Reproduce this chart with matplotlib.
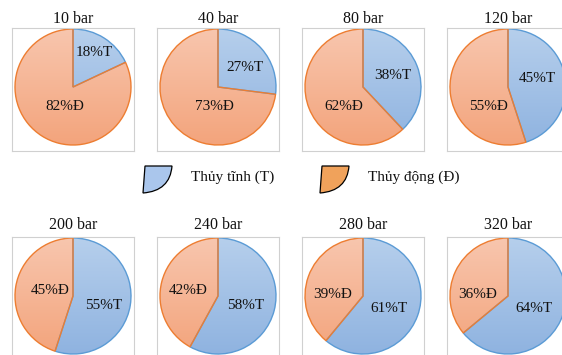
import numpy as np
import matplotlib.pyplot as plt
from matplotlib.path import Path
from matplotlib.patches import PathPatch
from matplotlib.colors import to_rgb

# share of hydrostatic (T) and hydrodynamic (Đ) load at each pressure
pressures = ["10 bar", "40 bar", "80 bar", "120 bar",
             "200 bar", "240 bar", "280 bar", "320 bar"]
tinh = [18, 27, 38, 45, 55, 58, 61, 64]
dong = [82, 73, 62, 55, 45, 42, 39, 36]
legend_names = ["Thủy tĩnh (T)", "Thủy động (Đ)"]
tags = ["T", "Đ"]

# where the two percentage labels sit, as fractions of the radius
label_off = [
    ((0.36, 0.60), (-0.14, -0.34)),
    ((0.47, 0.34), (-0.07, -0.34)),
    ((0.52, 0.19), (-0.33, -0.33)),
    ((0.50, 0.14), (-0.33, -0.33)),
    ((0.52, -0.17), (-0.40, 0.10)),
    ((0.48, -0.17), (-0.52, 0.10)),
    ((0.45, -0.21), (-0.52, 0.02)),
    ((0.45, -0.21), (-0.52, 0.02)),
]

W, H = 562, 355
R = 58
FONT = ["Liberation Serif", "DejaVu Serif"]

blue_grad = ("#b6cfec", "#8fb3e0")
orange_grad = ("#f8c6ae", "#f3a47c")
blue_edge = "#5b9bd5"
orange_edge = "#ed7d31"
ink = "#111111"

fig = plt.figure(figsize=(W / 100, H / 100), dpi=100)


def px_axes(x, y, w, h):
    return fig.add_axes([x / W, 1 - (y + h) / H, w / W, h / H])


def gradient_fill(ax, wedge, top, bottom):
    c1, c2 = np.array(to_rgb(top)), np.array(to_rgb(bottom))
    t = np.linspace(0, 1, 128)[:, None]
    img = (c1 + (c2 - c1) * t)[:, None, :]
    im = ax.imshow(img, extent=(-R, R, -R, R), origin="upper",
                   aspect="auto", interpolation="bilinear", zorder=1)
    im.set_clip_path(wedge)


for i, name in enumerate(pressures):
    row, col = divmod(i, 4)
    fx = 12 + 145 * col
    fy = 28 if row == 0 else 237
    ax = px_axes(fx, fy, 122, 123)
    wedges, _ = ax.pie([tinh[i], dong[i]], radius=R, startangle=90,
                       counterclock=False, frame=True,
                       wedgeprops=dict(linewidth=1.0))
    for w, grad, ec in zip(wedges, (blue_grad, orange_grad), (blue_edge, orange_edge)):
        w.set_facecolor("none")
        w.set_edgecolor(ec)
        w.set_zorder(2)
        gradient_fill(ax, w, *grad)
    vals = [tinh[i], dong[i]]
    for k in range(2):
        dx, dy = label_off[i][k]
        ax.text(dx * R, dy * R, f"{vals[k]}%{tags[k]}", ha="center", va="center",
                fontsize=11, family=FONT, color=ink, zorder=3)
    ax.set_xlim(-61, 61)
    ax.set_ylim(-64, 59)
    ax.set_xticks([])
    ax.set_yticks([])
    for s in ax.spines.values():
        s.set_color("#d0d0d0")
        s.set_linewidth(0.8)
    ax.set_title(name, fontsize=11.5, family=FONT, pad=3.5 if row == 0 else 6,
                 color=ink)

# legend with wedge-shaped swatches
lg = fig.add_axes([0, 0, 1, 1], zorder=-1)
lg.set_xlim(0, W)
lg.set_ylim(H, 0)
lg.axis("off")
swatch_cols = ["#aac6ec", "#f0a25b"]
for j, (label, fc) in enumerate(zip(legend_names, swatch_cols)):
    x0 = 143 + 177 * j
    verts = [(x0 + 2, 166), (x0 + 29, 166), (x0 + 27, 191), (x0, 193), (x0 + 2, 166)]
    codes = [Path.MOVETO, Path.LINETO, Path.CURVE3, Path.CURVE3, Path.CLOSEPOLY]
    lg.add_patch(PathPatch(Path(verts, codes), facecolor=fc, edgecolor="black",
                           linewidth=0.9))
    lg.text(x0 + 48, 177, label, ha="left", va="center", fontsize=11,
            family=FONT, color=ink)

fig.savefig("out.png", dpi=100)
